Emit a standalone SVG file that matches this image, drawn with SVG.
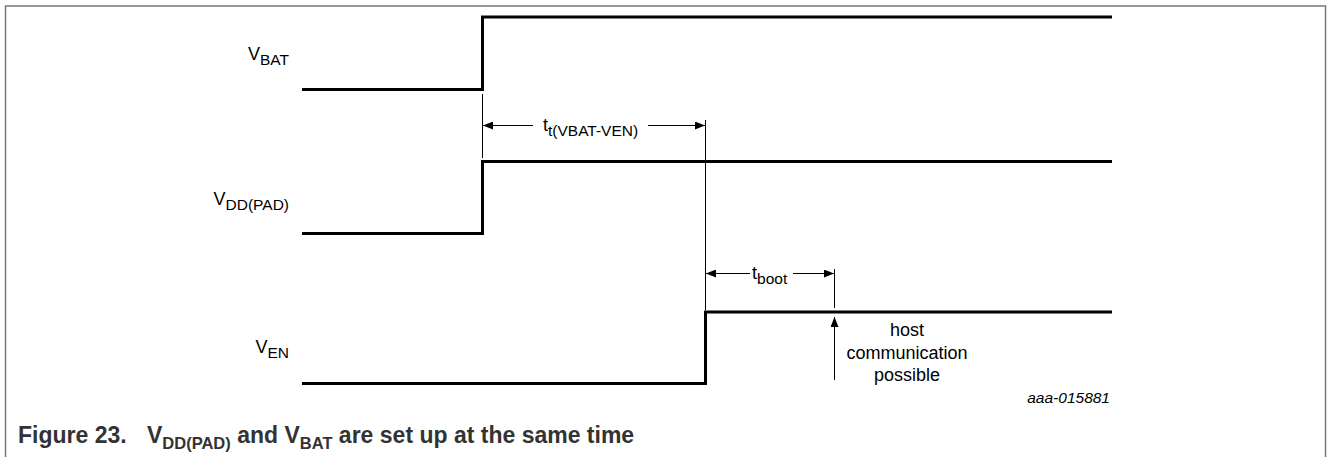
<svg xmlns="http://www.w3.org/2000/svg" width="1328" height="457" viewBox="0 0 1328 457">
<style>
text{font-family:"Liberation Sans",Arial,sans-serif;fill:#000}
.lbl{font-size:18px}
.sub{font-size:15.5px}
.sig{fill:none;stroke:#000;stroke-width:3;stroke-linejoin:miter}
.thin{fill:none;stroke:#000;stroke-width:1}
.cap{font-size:23px;font-weight:bold;fill:#333}
.capsub{font-size:16.5px}
.note{font-size:18px}
.code{font-size:15.5px;font-style:italic}
</style>
<defs>
<marker id="ah" viewBox="0 0 10 8" refX="10" refY="4" markerWidth="10" markerHeight="8" markerUnits="userSpaceOnUse" orient="auto">
<path d="M0,0 L10,4 L0,8 z" fill="#000"/>
</marker>
</defs>
<rect width="1328" height="457" fill="#fff"/>
<path d="M5.5,457 V6 H1325.5 V457" fill="none" stroke="#777" stroke-width="1.5"/>

<g id="vbat">
<text class="lbl" x="289" y="60" text-anchor="end">V<tspan class="sub" dy="5">BAT</tspan></text>
<path class="sig" d="M302,89.5 H482.5 V17 H1112"/>
</g>
<g id="vddpad">
<text class="lbl" x="289" y="205" text-anchor="end">V<tspan class="sub" dy="5">DD(PAD)</tspan></text>
<path class="sig" d="M302,233.5 H482.5 V161.5 H1112"/>
</g>
<g id="ven">
<text class="lbl" x="289" y="353" text-anchor="end">V<tspan class="sub" dy="5">EN</tspan></text>
<path class="sig" d="M302,383.5 H705.5 V312 H1112"/>
</g>

<g id="connectors">
<line class="thin" x1="482.5" y1="94" x2="482.5" y2="158"/>
<line class="thin" x1="705.5" y1="120" x2="705.5" y2="310"/>
<line class="thin" x1="533" y1="125.5" x2="483" y2="125.5" marker-end="url(#ah)"/>
<line class="thin" x1="648" y1="125.5" x2="705" y2="125.5" marker-end="url(#ah)"/>
<line class="thin" x1="834.5" y1="269" x2="834.5" y2="308"/>
<line class="thin" x1="750" y1="273.5" x2="706" y2="273.5" marker-end="url(#ah)"/>
<line class="thin" x1="793" y1="273.5" x2="834" y2="273.5" marker-end="url(#ah)"/>
<line class="thin" x1="834.5" y1="380" x2="834.5" y2="317" marker-end="url(#ah)"/>
</g>

<g id="labels">
<text class="lbl" x="543" y="131">t<tspan class="sub" dy="5">t(VBAT-VEN)</tspan></text>
<text class="lbl" x="752" y="279">t<tspan class="sub" dy="5">boot</tspan></text>
<text class="note" x="907" y="336" text-anchor="middle">host</text>
<text class="note" x="907" y="359" text-anchor="middle">communication</text>
<text class="note" x="907" y="381" text-anchor="middle">possible</text>
<text class="code" x="1110" y="403" text-anchor="end">aaa-015881</text>
</g>

<g id="caption">
<text class="cap" x="18" y="443">Figure 23.<tspan x="147">V</tspan><tspan class="capsub" dy="6">DD(PAD)</tspan><tspan dy="-6"> and V</tspan><tspan class="capsub" dy="6">BAT</tspan><tspan dy="-6"> are set up at the same time</tspan></text>
</g>
</svg>
